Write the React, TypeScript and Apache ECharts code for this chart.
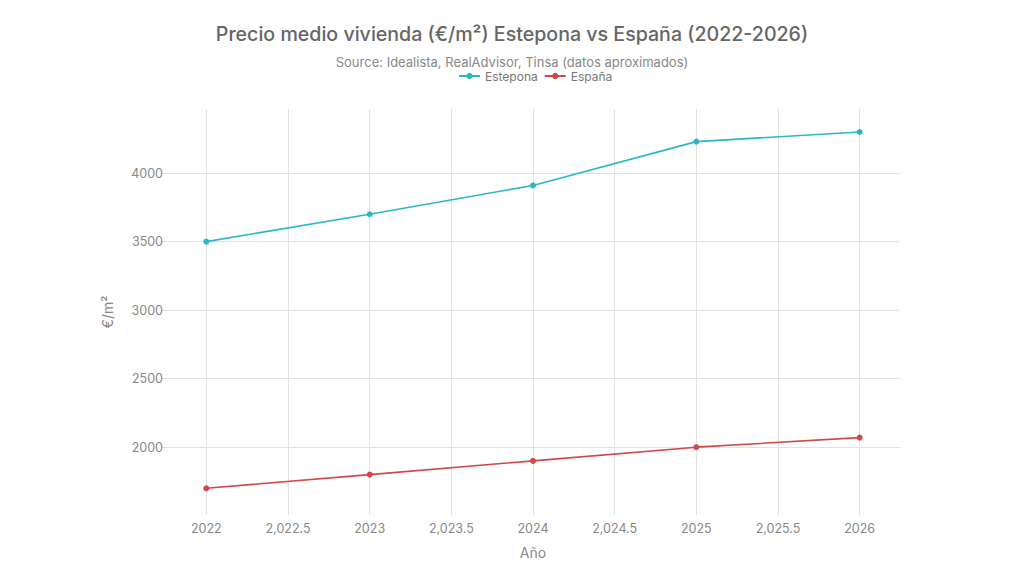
import React, { useEffect, useRef } from "react";
import * as echarts from "echarts";

const years = [2022, 2023, 2024, 2025, 2026];
const estepona = [3500, 3700, 3910, 4230, 4300];
const espana = [1700, 1800, 1900, 2000, 2070];
const xTicks = [2022, 2022.5, 2023, 2023.5, 2024, 2024.5, 2025, 2025.5, 2026];
const yTicks = [2000, 2500, 3000, 3500, 4000];

const FONT = "Inter, 'Noto Sans', sans-serif";

function fmtX(v: number): string {
  if (Number.isInteger(v)) return String(v);
  const s = v.toFixed(1);
  const [i, d] = s.split(".");
  return i.replace(/\B(?=(\d{3})+(?!\d))/g, ",") + "." + d;
}

export default function App() {
  const ref = useRef<HTMLDivElement>(null);
  useEffect(() => {
    document.body.style.margin = "0";
    const chart = echarts.init(ref.current!, null, { renderer: "svg" });
    chart.setOption({
      animation: false,
      backgroundColor: "#ffffff",
      textStyle: { fontFamily: FONT },
      title: [
        {
          text: "Precio medio vivienda (€/m²) Estepona vs España (2022-2026)",
          left: "center",
          top: 19,
          textStyle: { fontFamily: FONT, fontSize: 19.6, fontWeight: 500, color: "#666666" },
        },
        {
          text: "Source: Idealista, RealAdvisor, Tinsa (datos aproximados)",
          left: "center",
          top: 50,
          textStyle: { fontFamily: FONT, fontSize: 13, fontWeight: "normal", color: "#888888" },
        },
      ],
      legend: {
        top: 70,
        left: 458,
        padding: 0,
        itemWidth: 21,
        itemHeight: 8,
        itemGap: 6,
        textStyle: { fontFamily: FONT, fontSize: 12, color: "#777777" },
        data: ["Estepona", "España"],
      },
      grid: { left: 166, right: 124, top: 109, bottom: 62, containLabel: false },
      xAxis: {
        type: "value",
        min: 2021.753,
        max: 2026.247,
        name: "Año",
        nameLocation: "middle",
        nameGap: 30,
        nameTextStyle: { fontFamily: FONT, fontSize: 14, color: "#888888" },
        axisLine: { show: false },
        axisTick: { show: false, customValues: xTicks },
        axisLabel: {
          customValues: xTicks,
          formatter: (v: number) => fmtX(v),
          color: "#888888",
          fontSize: 12.5,
          fontFamily: FONT,
          margin: 7,
        },
        splitLine: { show: true, lineStyle: { color: "#e2e2e2", width: 1 } },
      },
      yAxis: {
        type: "value",
        min: 1505,
        max: 4468,
        name: "€/m²",
        nameLocation: "middle",
        nameGap: 52,
        nameRotate: 90,
        nameTextStyle: { fontFamily: FONT, fontSize: 14, color: "#888888" },
        axisLine: { show: false },
        axisTick: { show: true, length: 5, customValues: yTicks, lineStyle: { color: "#d8d8d8" } },
        axisLabel: {
          customValues: yTicks,
          formatter: (v: number) => String(v),
          color: "#888888",
          fontSize: 12.5,
          fontFamily: FONT,
          margin: 3,
        },
        splitLine: { show: true, lineStyle: { color: "#e2e2e2", width: 1 } },
      },
      series: [
        {
          name: "Estepona",
          type: "line",
          data: years.map((y, i) => [y, estepona[i]]),
          symbol: "circle",
          symbolSize: 6,
          color: "#2bb7c7",
          lineStyle: { width: 1.6, color: "#2bb7c7" },
          itemStyle: { color: "#2bb7c7" },
        },
        {
          name: "España",
          type: "line",
          data: years.map((y, i) => [y, espana[i]]),
          symbol: "circle",
          symbolSize: 6,
          color: "#d04848",
          lineStyle: { width: 1.6, color: "#d04848" },
          itemStyle: { color: "#d04848" },
        },
      ],
    });
    return () => chart.dispose();
  }, []);
  return <div ref={ref} style={{ width: 1024, height: 577 }} />;
}
